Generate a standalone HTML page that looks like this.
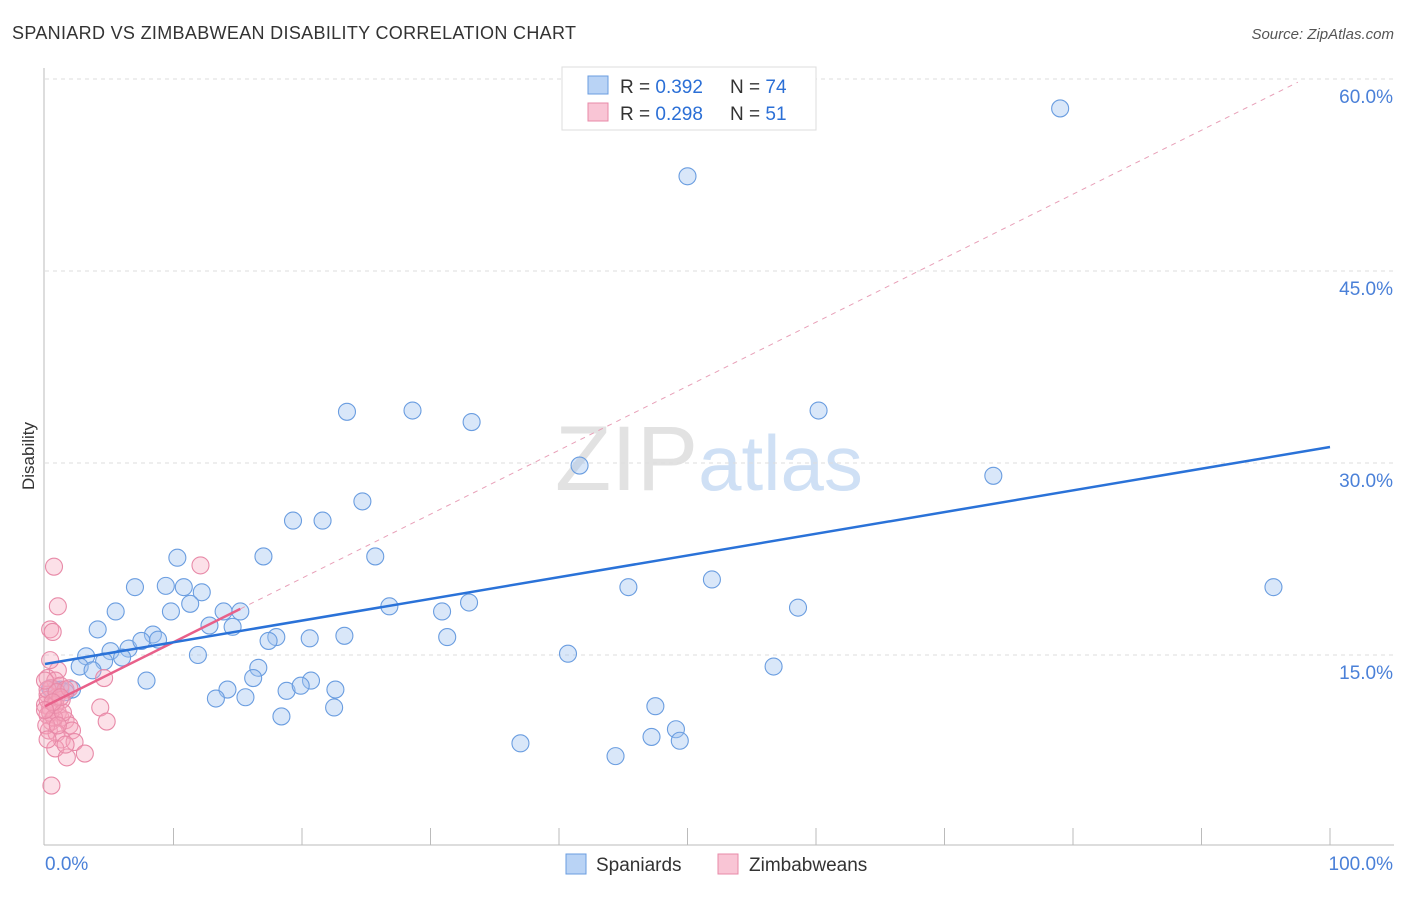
<!DOCTYPE html>
<html><head><meta charset="utf-8"><style>
body{margin:0;background:#fff;font-family:"Liberation Sans",sans-serif}
svg text{font-family:"Liberation Sans",sans-serif}
</style></head><body>
<svg id="c" width="1406" height="892">
<text x="12" y="39" font-size="18" fill="#333" textLength="564">SPANIARD VS ZIMBABWEAN DISABILITY CORRELATION CHART</text>
<text x="1394" y="39" font-size="15" fill="#555" text-anchor="end" font-style="italic">Source: ZipAtlas.com</text>
<text x="34" y="456" font-size="17" fill="#333" transform="rotate(-90 34 456)" text-anchor="middle">Disability</text>
<text x="555" y="490" font-size="92" fill="#e2e2e2" font-family="Liberation Serif">ZIP<tspan fill="#cfe0f5" font-family="Liberation Sans" font-size="78">atlas</tspan></text>
<g id="grid"></g><g id="axes"></g><g id="pts"></g><g id="lines"></g>
<g>
<rect x="562" y="67" width="254" height="63" fill="#fff" stroke="#ddd"/>
<rect x="588" y="76" width="20" height="18" fill="#b9d3f5" stroke="#6a9de0"/>
<rect x="588" y="103" width="20" height="18" fill="#f9c5d5" stroke="#e88aa8"/>
<text x="620" y="93" font-size="19" fill="#333">R = <tspan fill="#2b6fd6">0.392</tspan></text>
<text x="730" y="93" font-size="19" fill="#333">N = <tspan fill="#2b6fd6">74</tspan></text>
<text x="620" y="120" font-size="19" fill="#333">R = <tspan fill="#2b6fd6">0.298</tspan></text>
<text x="730" y="120" font-size="19" fill="#333">N =  <tspan fill="#2b6fd6">51</tspan></text>
</g>
<g>
<rect x="566" y="854" width="20" height="20" fill="#b9d3f5" stroke="#6a9de0"/>
<text x="596" y="871" font-size="19" fill="#333">Spaniards</text>
<rect x="718" y="854" width="20" height="20" fill="#f9c5d5" stroke="#e88aa8"/>
<text x="749" y="871" font-size="19" fill="#333">Zimbabweans</text>
</g>
</svg>
<script>
const yTicks=[15,30,45,60];
const xTickLabels=["0.0%","100.0%"];
const blueX=[79.0,50.0,23.5,28.6,33.2,60.2,41.6,73.8,24.7,19.3,21.6,10.3,17.0,25.7,7.0,9.4,10.8,12.2,45.4,51.9,95.6,5.5,9.8,11.3,13.9,15.2,26.8,30.9,33.0,58.6,4.1,8.4,12.8,14.6,18.0,17.4,20.6,23.3,31.3,6.5,7.5,8.8,5.1,3.2,6.0,4.6,2.7,3.7,11.9,40.7,56.7,16.6,7.9,16.2,20.7,14.2,18.8,19.9,22.6,1.2,2.1,1.6,13.3,15.6,18.4,22.5,47.5,49.1,47.2,49.4,37.0,44.4,0.8,0.4];
const blueY=[57.7,52.4,34.0,34.1,33.2,34.1,29.8,29.0,27.0,25.5,25.5,22.6,22.7,22.7,20.3,20.4,20.3,19.9,20.3,20.9,20.3,18.4,18.4,19.0,18.4,18.4,18.8,18.4,19.1,18.7,17.0,16.6,17.3,17.2,16.4,16.1,16.3,16.5,16.4,15.5,16.1,16.2,15.3,14.9,14.8,14.5,14.1,13.8,15.0,15.1,14.1,14.0,13.0,13.2,13.0,12.3,12.2,12.6,12.3,12.3,12.3,12.1,11.6,11.7,10.2,10.9,11.0,9.2,8.6,8.3,8.1,7.1,12.3,12.4];
const pinkX=[0.7,12.1,1.0,0.4,0.6,1.0,0.2,0.8,0.5,1.2,1.6,0.2,0.9,1.3,0,0.4,1.0,0.2,1.2,0.5,1.6,1.9,4.3,4.8,4.6,0.3,0.9,2.1,1.3,2.3,0.8,3.1,1.7,0.5,0.2,0.4,0.7,0.1,0.8,1.4,0.2,0.9,1.9,0,0.4,1.2,0.6,0.2,1.6,0,1.0];
const pinkY=[21.9,22.0,18.8,17.0,16.8,13.8,13.2,13.0,12.4,12.6,12.3,11.9,11.7,11.5,11.1,10.9,10.5,10.3,10.1,9.8,9.9,9.5,10.9,9.8,13.2,9.1,8.9,9.1,8.4,8.2,7.7,7.3,7.0,4.8,11.5,10.5,10.1,9.5,11.1,10.5,12.3,12.1,12.4,13.0,14.6,11.7,11.3,8.4,8.0,10.7,9.5];
const blueFit=[14.3,31.25];
const pinkFit=[11.0,0.5];
const NS="http://www.w3.org/2000/svg";
const X=v=>45+v*12.85, Y=v=>847-v*12.8;
function mk(p,t,a){const e=document.createElementNS(NS,t);for(const k in a)e.setAttribute(k,a[k]);document.getElementById(p).appendChild(e);return e;}
yTicks.forEach(t=>{
 const l=mk('grid','line',{x1:45,x2:1394,y1:Y(t),y2:Y(t),stroke:'#ddd','stroke-dasharray':'4,4'});
 
 
 const tx=mk('grid','text',{x:1393,y:Y(t)+24,'font-size':19,fill:'#4a80d8','text-anchor':'end'});tx.textContent=t.toFixed(1)+'%';
 
 
});
mk('axes','line',{x1:44,x2:44,y1:68,y2:845,stroke:'#bbb'});
mk('axes','line',{x1:44,x2:1394,y1:845,y2:845,stroke:'#bbb'});
for(let i=1;i<=10;i++){const t=mk('axes','line',{x1:X(i*10),x2:X(i*10),y1:828,y2:845,stroke:'#bbb'});
 
 }
const t0=mk('axes','text',{x:45,y:870,'font-size':19,fill:'#4a80d8'});t0.textContent=xTickLabels[0];


const t1=mk('axes','text',{x:1393,y:870,'font-size':19,fill:'#4a80d8','text-anchor':'end'});t1.textContent=xTickLabels[1];


blueX.forEach((v,i)=>{const c=mk('pts','circle',{cx:X(v),cy:Y(blueY[i]),r:8.5,fill:'rgba(160,195,240,0.4)',stroke:'#6a9de0','stroke-width':1.1});
 
 });
pinkX.forEach((v,i)=>{const c=mk('pts','circle',{cx:X(v),cy:Y(pinkY[i]),r:8.5,fill:'rgba(245,165,190,0.35)',stroke:'#e88aa8','stroke-width':1.1});
 
 });
const pd=mk('lines','line',{x1:X(15.2),y1:Y(pinkFit[0]+pinkFit[1]*15.2),x2:X(97.5),y2:Y(pinkFit[0]+pinkFit[1]*97.5),stroke:'#e8a0b8','stroke-dasharray':'5,5','stroke-width':1});


const pl=mk('lines','line',{x1:X(0),y1:Y(pinkFit[0]),x2:X(15.2),y2:Y(pinkFit[0]+pinkFit[1]*15.2),stroke:'#e8608a','stroke-width':2.5});


const bl=mk('lines','line',{x1:X(0),y1:Y(blueFit[0]),x2:X(100),y2:Y(blueFit[1]),stroke:'#2a72d8','stroke-width':2.5});


</script>
</body></html>
